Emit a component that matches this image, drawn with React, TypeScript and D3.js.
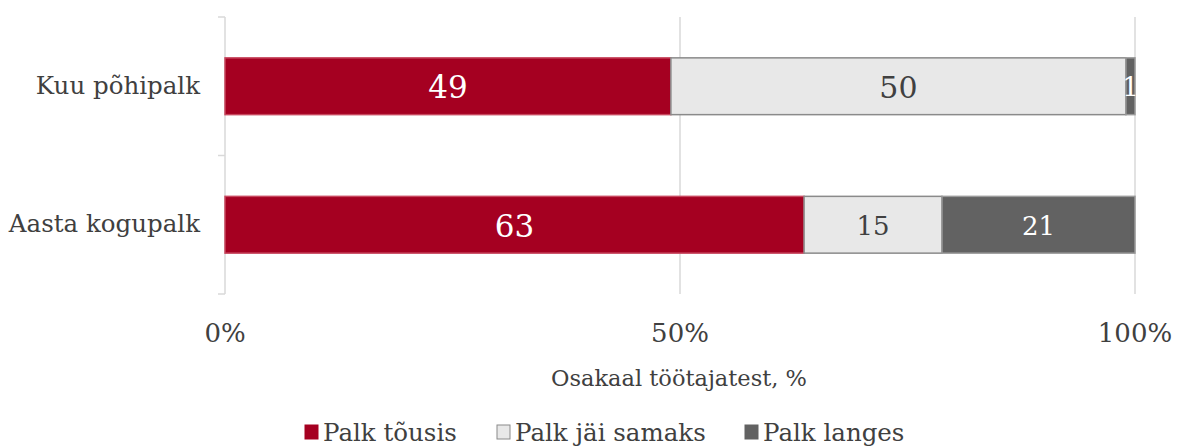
import React from "react";
import * as d3 from "d3";

const categories = ["Kuu põhipalk", "Aasta kogupalk"];
const seriesNames = ["Palk tõusis", "Palk jäi samaks", "Palk langes"];
const tousis = [49, 63];
const samaks = [50, 15];
const langes = [1, 21];
const xTicks = [0, 0.5, 1];
const axisTitle = "Osakaal töötajatest, %";

const colors = ["#a50021", "#e8e8e8", "#626262"];
const strokes = ["#c8475e", "#8a8a8a", "#9a9a9a"];
const labelColors = ["#ffffff", "#404040", "#ffffff"];

const W = 1177, H = 446;
const FONT = "'DejaVu Serif', 'Liberation Serif', serif";

export default function App() {
  const x = d3.scaleLinear().domain([0, 1]).range([225, 1135]);
  const y = d3.scaleBand().domain(categories).range([17, 294]).paddingInner(0.59).paddingOuter(0.295);

  const rows = categories.map((c, i) => ({ cat: c, a: tousis[i], b: samaks[i], c2: langes[i] }));
  const stack = d3.stack<any>().keys(["a", "b", "c2"]).offset(d3.stackOffsetExpand);
  const series = stack(rows);
  const labelSizes = [[31, 31], [30, 26], [26, 26]];

  return (
    <svg width={W} height={H} style={{ position: "absolute", left: 0, top: 0 }} fontFamily={FONT}>
      {xTicks.slice(1).map((t) => (
        <line key={t} x1={x(t)} x2={x(t)} y1={17} y2={294} stroke="#d9d9d9" strokeWidth={1.5} />
      ))}
      <line x1={x(0)} x2={x(0)} y1={17} y2={294} stroke="#d9d9d9" strokeWidth={1.5} />
      {[17, (17 + 294) / 2, 294].map((v) => (
        <line key={v} x1={x(0) - 7} x2={x(0)} y1={v} y2={v} stroke="#d9d9d9" strokeWidth={1.5} />
      ))}
      {series.map((s, si) =>
        s.map((d, i) => {
          const cat = categories[i];
          const x0 = x(d[0]);
          const x1 = x(d[1]);
          const by = y(cat)!;
          const bh = y.bandwidth();
          const val = [tousis, samaks, langes][si][i];
          const fs = labelSizes[si][i];
          return (
            <g key={si + "-" + i}>
              <rect x={x0} y={by} width={x1 - x0} height={bh} fill={colors[si]} stroke={strokes[si]} strokeWidth={1.5} />
              <text x={(x0 + x1) / 2} y={by + bh / 2} dy="0.38em" textAnchor="middle" fontSize={fs} fill={labelColors[si]}>
                {val}
              </text>
            </g>
          );
        })
      )}
      {categories.map((c) => (
        <text key={c} x={200} y={y(c)! + y.bandwidth() / 2} dy="0.3em" textAnchor="end" fontSize={24.5} fill="#404040">
          {c}
        </text>
      ))}
      {xTicks.map((t) => (
        <text key={t} x={x(t)} y={342} textAnchor="middle" fontSize={26} fill="#404040">
          {d3.format(".0%")(t)}
        </text>
      ))}
      <text x={679} y={386} textAnchor="middle" fontSize={22.5} fill="#404040">
        {axisTitle}
      </text>
      {(() => {
        const items = [305, 497, 745];
        return seriesNames.map((n, i) => (
          <g key={n} transform={`translate(${items[i]},0)`}>
            <rect x={0} y={425} width={13} height={14} fill={colors[i]} stroke={i === 1 ? "#8a8a8a" : colors[i]} strokeWidth={1} />
            <text x={18} y={441} fontSize={24.5} fill="#404040">
              {n}
            </text>
          </g>
        ));
      })()}
    </svg>
  );
}
